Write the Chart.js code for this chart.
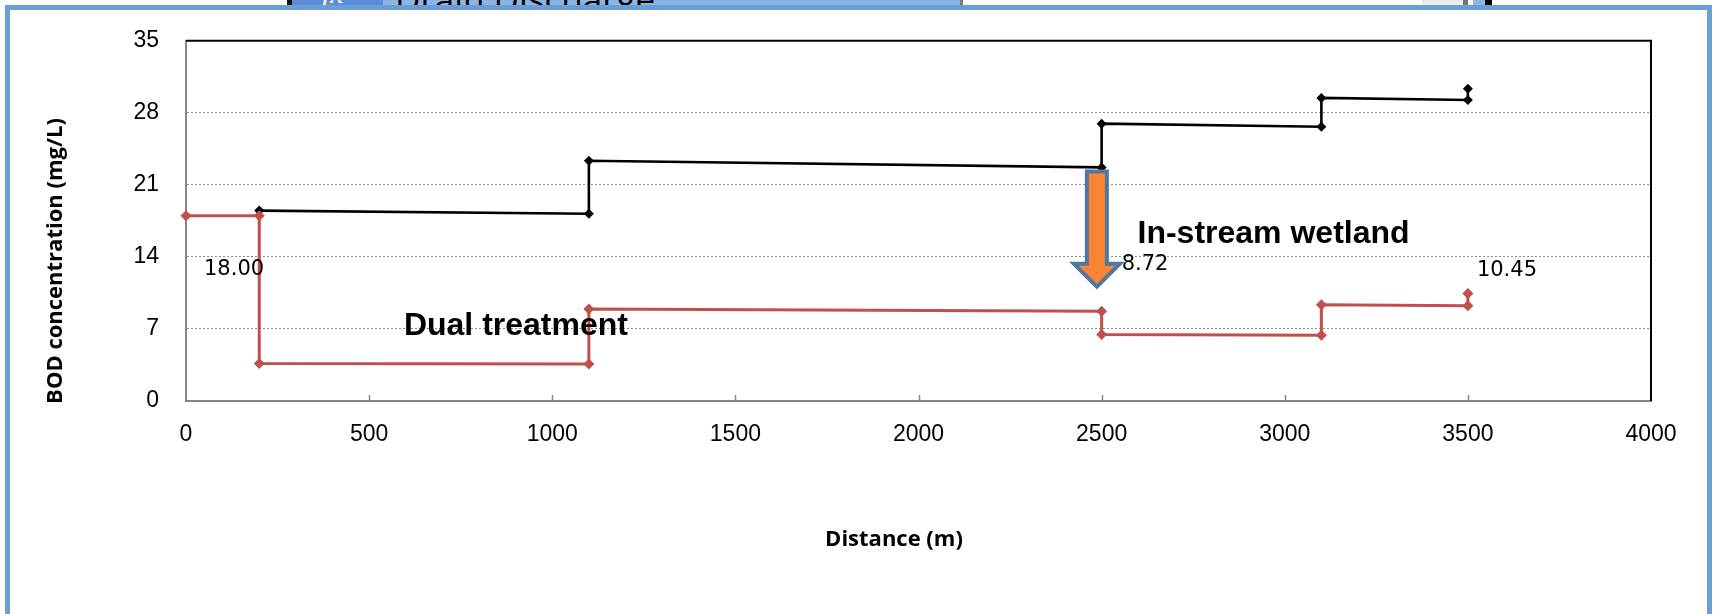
<!DOCTYPE html>
<html>
<head>
<meta charset="utf-8">
<title>BOD concentration along the stream</title>
<script src="https://cdn.jsdelivr.net/npm/chart.js@4.4.1/dist/chart.umd.min.js"></script>
<style>
  html, body { margin: 0; padding: 0; background: #fff; }
  body { width: 1721px; height: 614px; position: relative; overflow: hidden; }
  #frame {
    position: absolute; left: 5px; top: 5px; width: 1697px; height: 700px;
    border: 5px solid #6A9FD5; border-bottom: none; background: #fff;
  }
  .strip { position: absolute; top: 0; height: 5px; overflow: hidden; }
  .strip span { position: absolute; white-space: nowrap; line-height: 30px; }
  #chart { position: absolute; left: 0; top: 0; }
</style>
</head>
<body>
<div id="frame"></div>
<!-- formula bar sliver above the chart frame -->
<div class="strip" style="left:287px;width:5px;background:#111;"></div>
<div class="strip" style="left:292px;width:91px;background:#5B8DD5;">
  <span style="left:30px;top:-24px;font:italic 30px 'Liberation Serif',serif;color:#fff;">fx</span>
</div>
<div class="strip" style="left:383px;width:577px;background:#8EB4E3;">
  <span style="left:12px;top:-25px;font:35px 'Open Sans',sans-serif;color:#000;">Drain Discharge</span>
  <span style="left:563px;top:-25px;font:bold 14px 'Liberation Sans',sans-serif;color:#000;">x</span>
</div>
<div class="strip" style="left:960px;width:3px;background:#7a7a7a;"></div>
<div class="strip" style="left:1422px;width:41px;background:#ececec;"></div>
<div class="strip" style="left:1463px;width:5px;background:#777;"></div>
<div class="strip" style="left:1473px;width:12px;background:#8EB4E3;"></div>
<div class="strip" style="left:1485px;width:7px;background:#000;"></div>

<canvas id="chart" width="1721" height="614"></canvas>

<script>
// Distance along the stream (m) and BOD (mg/L) for each scenario
const treatedDistance   = [0, 200, 200, 1100, 1100, 2500, 2500, 3100, 3100, 3500, 3500];
const treatedBOD        = [18.00, 18.00, 3.65, 3.60, 8.95, 8.72, 6.45, 6.38, 9.35, 9.25, 10.45];
const untreatedDistance = [200, 1100, 1100, 2500, 2500, 3100, 3100, 3500, 3500];
const untreatedBOD      = [18.50, 18.20, 23.35, 22.70, 26.95, 26.65, 29.45, 29.25, 30.35];

// Axis ranges and tick steps
const xRange = [0, 4000];
const xStep = 500;
const yRange = [0, 35];
const yStep = 7;

// Values printed next to points of the treated series (by point index)
const labelledPoints = [0, 5, 10];

// Text notes, placed in data units (left edge, baseline)
const notes = [
  { text: 'Dual treatment',    x: 595,  y: 6.4 },
  { text: 'In-stream wetland', x: 2598, y: 15.4 }
];

// Downward block arrow marking the wetland, in data units
const wetlandArrow = { x: 2487, yTop: 22.3, yTip: 11.1 };

const toPoints = (xs, ys) => xs.map((v, i) => ({ x: v, y: ys[i] }));

const RED = '#C0504D';

// pixel offsets of each printed value from its point (left edge, baseline)
const labelOffsets = { 0: [18, 59], 5: [20, -41], 10: [9, -17] };

const decorations = {
  id: 'decorations',
  beforeDatasetsDraw(chart) {
    const { ctx, chartArea: a, scales: { x } } = chart;
    ctx.save();
    // top and right edges of the plot box
    ctx.strokeStyle = '#000';
    ctx.lineWidth = 2;
    ctx.beginPath();
    ctx.moveTo(a.left, a.top);
    ctx.lineTo(a.right, a.top);
    ctx.lineTo(a.right, a.bottom);
    ctx.stroke();
    // short inward tick marks on the distance axis
    ctx.strokeStyle = '#868686';
    ctx.lineWidth = 1.5;
    x.ticks.forEach(t => {
      if (t.value <= xRange[0] || t.value >= xRange[1]) return;
      const px = Math.round(x.getPixelForValue(t.value)) + 0.5;
      ctx.beginPath();
      ctx.moveTo(px, a.bottom);
      ctx.lineTo(px, a.bottom - 6);
      ctx.stroke();
    });
    ctx.restore();
  },
  afterDatasetsDraw(chart) {
    const { ctx, scales: { x, y } } = chart;
    ctx.save();

    // wetland arrow
    const cx = x.getPixelForValue(wetlandArrow.x);
    const top = y.getPixelForValue(wetlandArrow.yTop);
    const tip = y.getPixelForValue(wetlandArrow.yTip);
    const shaftHalf = 10, headHalf = 23, headLen = 23;
    const base = tip - headLen;
    ctx.beginPath();
    ctx.moveTo(cx - shaftHalf, top);
    ctx.lineTo(cx + shaftHalf, top);
    ctx.lineTo(cx + shaftHalf, base);
    ctx.lineTo(cx + headHalf, base);
    ctx.lineTo(cx, tip);
    ctx.lineTo(cx - headHalf, base);
    ctx.lineTo(cx - shaftHalf, base);
    ctx.closePath();
    ctx.fillStyle = '#FA8433';
    ctx.fill();
    ctx.lineWidth = 4;
    ctx.lineJoin = 'miter';
    ctx.strokeStyle = '#50779F';
    ctx.stroke();

    // printed values
    const meta = chart.getDatasetMeta(0);
    ctx.fillStyle = '#000';
    ctx.font = '21px "DejaVu Sans", sans-serif';
    ctx.textAlign = 'left';
    ctx.textBaseline = 'alphabetic';
    labelledPoints.forEach(i => {
      const el = meta.data[i];
      const [dx, dy] = labelOffsets[i];
      ctx.fillText(treatedBOD[i].toFixed(2), el.x + dx, el.y + dy);
    });

    // notes
    ctx.font = 'bold 32px "Liberation Sans", Arial, sans-serif';
    notes.forEach(n => {
      ctx.fillText(n.text, x.getPixelForValue(n.x), y.getPixelForValue(n.y));
    });

    // axis titles
    ctx.font = 'bold 22px "Open Sans", sans-serif';
    ctx.textAlign = 'center';
    ctx.textBaseline = 'middle';
    ctx.fillText('Distance (m)', 894, 540);
    ctx.translate(56, 261);
    ctx.rotate(-Math.PI / 2);
    ctx.fillText('BOD concentration (mg/L)', 0, 0);
    ctx.restore();
  }
};

const TICK_FONT = { family: '"Liberation Sans", Arial, sans-serif', size: 23 };

new Chart(document.getElementById('chart'), {
  type: 'scatter',
  data: {
    datasets: [
      {
        label: 'Dual treatment',
        data: toPoints(treatedDistance, treatedBOD),
        showLine: true,
        clip: false,
        borderColor: RED,
        backgroundColor: RED,
        borderWidth: 3,
        pointStyle: 'rectRot',
        pointRadius: 5.5,
        pointBorderWidth: 0,
        tension: 0
      },
      {
        label: 'Without treatment',
        data: toPoints(untreatedDistance, untreatedBOD),
        showLine: true,
        clip: false,
        borderColor: '#000',
        backgroundColor: '#000',
        borderWidth: 2.6,
        pointStyle: 'rectRot',
        pointRadius: 5,
        pointBorderWidth: 0,
        tension: 0
      }
    ]
  },
  options: {
    responsive: false,
    animation: false,
    devicePixelRatio: 1,
    layout: { padding: { left: 0, top: 35, right: 70, bottom: 0 } },
    plugins: { legend: { display: false }, tooltip: { enabled: false } },
    scales: {
      x: {
        type: 'linear',
        min: xRange[0],
        max: xRange[1],
        ticks: {
          stepSize: xStep, font: TICK_FONT, color: '#000', padding: 20, maxRotation: 0,
          callback: v => String(v)
        },
        grid: { drawOnChartArea: false, drawTicks: false },
        border: { color: '#868686', width: 2 },
        afterFit: s => { s.height = 213; }
      },
      y: {
        type: 'linear',
        min: yRange[0],
        max: yRange[1],
        ticks: {
          stepSize: yStep, font: TICK_FONT, color: '#000', padding: 27,
          callback: v => String(v)
        },
        grid: {
          drawTicks: false,
          lineWidth: 1,
          color: c => (c.tick && c.tick.value > yRange[0] && c.tick.value < yRange[1]) ? '#8c8c8c' : 'rgba(0,0,0,0)'
        },
        border: { color: '#868686', width: 2, dash: [2, 2] },
        afterFit: s => { s.width = 186; }
      }
    }
  },
  plugins: [decorations]
});
</script>
</body>
</html>
